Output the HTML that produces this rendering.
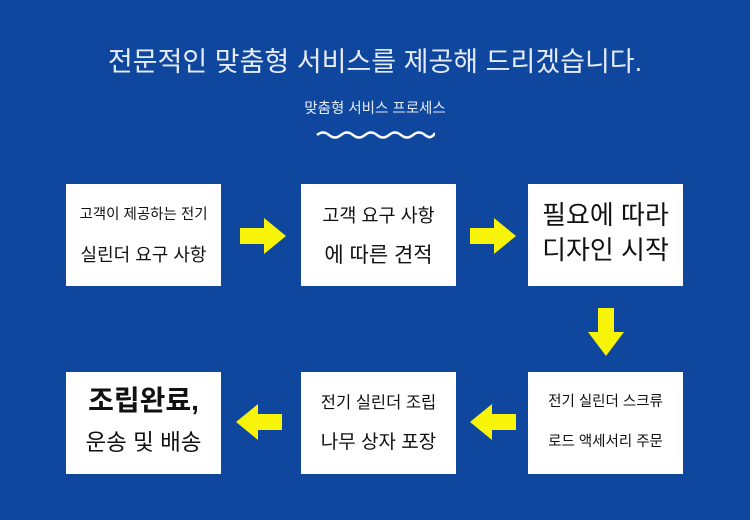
<!DOCTYPE html>
<html><head><meta charset="utf-8"><style>
body{margin:0;width:750px;height:520px;background:#0f469e;position:relative;overflow:hidden;font-family:"Liberation Sans","Noto Sans CJK KR",sans-serif;}
.t{position:absolute;left:0;width:750px;text-align:center;color:#e6ecf5;}
.b{position:absolute;background:#fff;width:155px;height:102px;color:#111;text-align:center;}
.b div{position:absolute;left:0;width:100%;white-space:nowrap;line-height:1.2;}
svg{position:absolute;}
</style></head><body>
<div class="t" style="top:46px;font-size:27px;line-height:1.2">전문적인 맞춤형 서비스를 제공해 드리겠습니다.</div>
<div class="t" style="top:101px;font-size:14.5px;line-height:1.2">맞춤형 서비스 프로세스</div>
<svg style="left:315px;top:126px" width="120" height="14"><path d="M2 9 Q8 4 14 9 T26 9 T38 9 T50 9 T62 9 T74 9 T86 9 T98 9 T110 9 T120 7" stroke="#fff" stroke-width="2.5" fill="none"/></svg>

<div class="b" style="left:66px;top:184px"><div style="top:23px;font-size:14.5px">고객이 제공하는 전기</div><div style="top:61px;font-size:18px">실린더 요구 사항</div></div>
<div class="b" style="left:301px;top:184px"><div style="top:21px;font-size:18.5px">고객 요구 사항</div><div style="top:59px;font-size:21px">에 따른 견적</div></div>
<div class="b" style="left:528px;top:184px"><div style="top:16px;font-size:26px">필요에 따라</div><div style="top:51px;font-size:26px">디자인 시작</div></div>
<div class="b" style="left:528px;top:372px"><div style="top:22px;font-size:14.5px">전기 실린더 스크류</div><div style="top:62px;font-size:14.5px">로드 액세서리 주문</div></div>
<div class="b" style="left:301px;top:372px"><div style="top:22px;font-size:16.5px">전기 실린더 조립</div><div style="top:60px;font-size:19px">나무 상자 포장</div></div>
<div class="b" style="left:66px;top:372px"><div style="top:12px;font-size:28px;font-weight:bold">조립완료,</div><div style="top:57px;font-size:22.5px">운송 및 배송</div></div>

<svg style="left:240px;top:218px" width="46" height="36"><polygon points="0,10 24,10 24,0 46,18 24,36 24,26 0,26" fill="#f7f40a"/></svg>
<svg style="left:470px;top:218px" width="46" height="36"><polygon points="0,10 24,10 24,0 46,18 24,36 24,26 0,26" fill="#f7f40a"/></svg>
<svg style="left:588px;top:308px" width="36" height="48"><polygon points="10,0 26,0 26,24 36,24 18,48 0,24 10,24" fill="#f7f40a"/></svg>
<svg style="left:470px;top:404px" width="46" height="36"><polygon points="46,10 22,10 22,0 0,18 22,36 22,26 46,26" fill="#f7f40a"/></svg>
<svg style="left:236px;top:404px" width="46" height="36"><polygon points="46,10 22,10 22,0 0,18 22,36 22,26 46,26" fill="#f7f40a"/></svg>
</body></html>
